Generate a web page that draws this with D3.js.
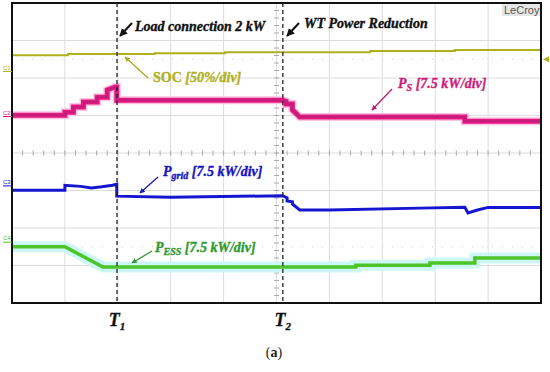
<!DOCTYPE html>
<html>
<head>
<meta charset="utf-8">
<script src="https://cdn.jsdelivr.net/npm/d3@7"></script>
<style>
  body { margin: 0; background: #fff; }
  svg { display: block; }
</style>
</head>
<body>
<script>
// time in divisions (10 div), values in divisions (8 div, centre = 0)
const socT   = [0, 1.06, 1.06, 2.70, 2.70, 4.03, 4.03, 6.77, 6.77, 8.37, 8.37, 10]
const socV   = [2.61, 2.61, 2.64, 2.64, 2.66, 2.66, 2.69, 2.69, 2.72, 2.72, 2.75, 2.75]

const psT    = [0, 1.0, 1.0, 1.16, 1.16, 1.35, 1.35, 1.61, 1.61, 1.80, 1.80, 1.95, 1.98, 1.98, 5.12, 5.18, 5.18, 5.30, 5.30, 5.44, 8.56, 8.56, 10]
const psV    = [1.01, 1.01, 1.09, 1.09, 1.23, 1.23, 1.36, 1.36, 1.49, 1.49, 1.68, 1.76, 1.76, 1.41, 1.41, 1.38, 1.31, 1.31, 1.15, 0.96, 0.96, 0.85, 0.85]

const gridT  = [0, 1.0, 1.0, 1.3, 1.5, 1.7, 1.9, 1.98, 1.98, 3.0, 5.12, 5.2, 5.2, 5.3, 5.3, 5.44, 6.0, 7.7, 8.56, 8.62, 8.8, 9.0, 10]
const gridV  = [-0.99, -0.99, -0.86, -0.89, -0.93, -0.90, -0.86, -0.83, -1.15, -1.18, -1.14, -1.2, -1.28, -1.3, -1.36, -1.52, -1.52, -1.47, -1.45, -1.6, -1.52, -1.45, -1.45]

const essT   = [0, 1.0, 1.72, 6.5, 6.5, 7.9, 7.9, 8.75, 8.75, 10]
const essV   = [-2.5, -2.5, -3.04, -3.04, -2.99, -2.99, -2.93, -2.93, -2.8, -2.8]

const events = [1.985, 5.12]
const eventLabels = ["T", "T"]
const eventSubs = ["1", "2"]

const W = 550, H = 372
const svg = d3.select("body").append("svg").attr("width", W).attr("height", H)

const x = d3.scaleLinear().domain([0, 10]).range([12, 541])
const y = d3.scaleLinear().domain([-4, 4]).range([303, 3])

// grid
svg.append("g").selectAll("line").data(d3.range(1, 10)).enter().append("line")
  .attr("x1", d => x(d)).attr("x2", d => x(d)).attr("y1", y(4)).attr("y2", y(-4))
  .attr("stroke", "#dcdcdc").attr("stroke-width", 1)
svg.append("g").selectAll("line").data(d3.range(-3, 4)).enter().append("line")
  .attr("x1", x(0)).attr("x2", x(10)).attr("y1", d => y(d)).attr("y2", d => y(d))
  .attr("stroke", "#dcdcdc").attr("stroke-width", 1)

// centre cross ticks
svg.append("g").selectAll("line").data(d3.range(0, 10.01, 0.2)).enter().append("line")
  .attr("x1", d => x(d)).attr("x2", d => x(d)).attr("y1", y(0) - 2.5).attr("y2", y(0) + 2.5)
  .attr("stroke", "#aaa").attr("stroke-width", 1)
svg.append("g").selectAll("line").data(d3.range(-4, 4.01, 0.2)).enter().append("line")
  .attr("x1", x(5) - 2.5).attr("x2", x(5) + 2.5).attr("y1", d => y(d)).attr("y2", d => y(d))
  .attr("stroke", "#aaa").attr("stroke-width", 1)

// dotted lines
svg.append("g").selectAll("line").data([2.5, -2.5]).enter().append("line")
  .attr("x1", x(0)).attr("x2", x(10)).attr("y1", d => y(d)).attr("y2", d => y(d))
  .attr("stroke", "#c8c8c8").attr("stroke-width", 1).attr("stroke-dasharray", "1,9")

const line = d3.line().x(d => x(d[0])).y(d => y(d[1]))
const zip = (a, b) => a.map((t, i) => [t, b[i]])

// halos
svg.append("path").datum(zip(essT, essV)).attr("d", line)
  .attr("fill", "none").attr("stroke", "#cdf7f7").attr("stroke-width", 11)
svg.append("path").datum(zip(psT, psV)).attr("d", line)
  .attr("fill", "none").attr("stroke", "#fcc4e4").attr("stroke-width", 8)

// traces
svg.append("path").datum(zip(socT, socV)).attr("d", line)
  .attr("fill", "none").attr("stroke", "#b0b01c").attr("stroke-width", 2)
svg.append("path").datum(zip(psT, psV)).attr("d", line)
  .attr("fill", "none").attr("stroke", "#e3177f").attr("stroke-width", 5)
svg.append("path").datum(zip(psT, psV)).attr("d", line)
  .attr("fill", "none").attr("stroke", "#9a2a78").attr("stroke-width", 1.3).attr("opacity", 0.6)
svg.append("path").datum(zip(gridT, gridV)).attr("d", line)
  .attr("fill", "none").attr("stroke", "#1616d0").attr("stroke-width", 3)
svg.append("path").datum(zip(essT, essV)).attr("d", line)
  .attr("fill", "none").attr("stroke", "#4cc42a").attr("stroke-width", 3.5)

// frame
svg.append("rect").attr("x", x(0)).attr("y", y(4)).attr("width", x(10) - x(0)).attr("height", y(-4) - y(4))
  .attr("fill", "none").attr("stroke", "#111").attr("stroke-width", 2)

// event lines
svg.append("g").selectAll("line").data(events).enter().append("line")
  .attr("x1", d => x(d)).attr("x2", d => x(d)).attr("y1", y(4)).attr("y2", y(-4))
  .attr("stroke", "#222").attr("stroke-width", 1.3).attr("stroke-dasharray", "4,3")

const tl = svg.append("g").selectAll("text").data(events).enter().append("text")
  .attr("x", d => x(d)).attr("y", 326).attr("text-anchor", "middle")
  .attr("font-family", "Liberation Serif").attr("font-weight", "bold").attr("font-style", "italic")
  .attr("font-size", 18).attr("fill", "#111").attr("stroke", "#111").attr("stroke-width", 0.3)
tl.append("tspan").text((d, i) => eventLabels[i])
tl.append("tspan").attr("font-size", 11).attr("dy", 4).text((d, i) => eventSubs[i])

// channel markers
const chans = [["C1", 2.2, "#b0b01c"], ["C2", 1.0, "#e3177f"], ["C3", -0.85, "#1616d0"], ["C4", -2.35, "#4cc42a"]]
chans.forEach(c => {
  svg.append("text").attr("x", 3).attr("y", y(c[1]) - 1).text(c[0])
    .attr("font-family", "Liberation Sans").attr("font-size", 6).attr("fill", c[2])
  svg.append("line").attr("x1", 3).attr("x2", 12).attr("y1", y(c[1]) + 1).attr("y2", y(c[1]) + 1)
    .attr("stroke", c[2]).attr("stroke-width", 1)
})
svg.append("path").attr("d", `M543,${y(2.5)} L549,${y(2.5) - 3} L549,${y(2.5) + 3} Z`).attr("fill", "#b0b01c")

// LeCroy
svg.append("rect").attr("x", 502).attr("y", 4).attr("width", 38).attr("height", 12).attr("fill", "#e6e6e6")
svg.append("text").attr("x", 504).attr("y", 14).text("LeCroy")
  .attr("font-family", "Liberation Sans").attr("font-size", 11).attr("fill", "#555")

// arrows
const defs = svg.append("defs")
function marker(id, col) {
  defs.append("marker").attr("id", id).attr("viewBox", "0 0 10 10").attr("refX", 9).attr("refY", 5)
    .attr("markerWidth", 4).attr("markerHeight", 4).attr("orient", "auto")
    .append("path").attr("d", "M0,0 L10,5 L0,10 Z").attr("fill", col)
}
marker("mk", "#111"); marker("mo", "#a8a820"); marker("mp", "#c01a78"); marker("mb", "#1818b8"); marker("mg", "#2f9a30")
function arrow(x1, y1, x2, y2, col, mk, w) {
  svg.append("line").attr("x1", x1).attr("y1", y1).attr("x2", x2).attr("y2", y2)
    .attr("stroke", col).attr("stroke-width", w).attr("marker-end", `url(#${mk})`)
}
arrow(132, 23, 120, 36, "#111", "mk", 2)
arrow(299, 23, 287, 36, "#111", "mk", 2)
arrow(148, 78, 125, 57, "#a8a820", "mo", 1.3)
arrow(392, 89, 372, 110, "#c01a78", "mp", 1.3)
arrow(158, 177, 140, 193, "#1818b8", "mb", 1.3)
arrow(152, 251, 132, 263, "#2f9a30", "mg", 1.3)

// labels
function label(xp, yp, col, parts) {
  const t = svg.append("text").attr("x", xp).attr("y", yp)
    .attr("font-family", "Liberation Serif").attr("font-weight", "bold").attr("font-size", 14)
    .attr("fill", col).attr("stroke", col).attr("stroke-width", 0.35)
  parts.forEach(p => {
    const s = t.append("tspan").text(p.t)
    if (p.i) s.attr("font-style", "italic")
    if (p.sub) s.attr("font-size", 10).attr("dy", 3)
    if (p.up) s.attr("dy", -3)
  })
}
label(135, 31, "#111", [{ t: "Load connection 2 kW", i: true }])
label(304, 28, "#111", [{ t: "WT Power Reduction", i: true }])
label(153, 82, "#b0b020", [{ t: "SOC " }, { t: "[50%/div]", i: true }])
label(398, 88, "#cc1f7c", [{ t: "P", i: true }, { t: "S", i: true, sub: true }, { t: " [7.5 kW/div]", i: true, up: true }])
label(163, 176, "#1414c0", [{ t: "P", i: true }, { t: "grid", i: true, sub: true }, { t: " [7.5 kW/div]", i: true, up: true }])
label(155, 252, "#2f9a30", [{ t: "P", i: true }, { t: "ESS", i: true, sub: true }, { t: " [7.5 kW/div]", i: true, up: true }])

const cap = svg.append("text").attr("x", 274).attr("y", 357).attr("text-anchor", "middle")
  .attr("font-family", "Liberation Serif").attr("font-size", 14).attr("fill", "#222")
cap.append("tspan").text("(")
cap.append("tspan").attr("font-weight", "bold").text("a")
cap.append("tspan").text(")")
</script>
</body>
</html>
